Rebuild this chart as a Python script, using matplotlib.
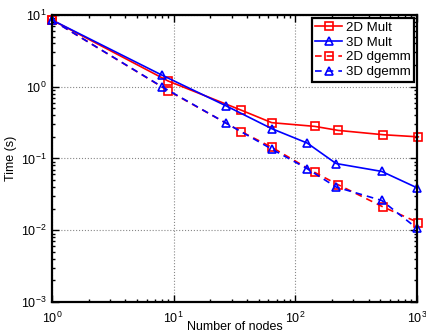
import numpy as np
import matplotlib.pyplot as plt
from matplotlib.ticker import LogLocator, NullFormatter

plt.rcParams['font.family'] = ['Liberation Sans', 'DejaVu Sans']
plt.rcParams['mathtext.fontset'] = 'custom'
plt.rcParams['mathtext.rm'] = 'Liberation Sans'

# node counts (2D = squares, 3D = cubes)
nodes_2d = [1, 9, 36, 64, 144, 225, 529, 1024]
nodes_3d = [1, 8, 27, 64, 125, 216, 512, 1000]

# timings in seconds
mult_2d = [8.5, 1.2, 0.47, 0.315, 0.28, 0.246, 0.214, 0.20]
mult_3d = [8.5, 1.45, 0.54, 0.26, 0.164, 0.085, 0.066, 0.039]
dgemm_2d = [8.5, 0.88, 0.236, 0.143, 0.064, 0.043, 0.021, 0.0128]
dgemm_3d = [8.5, 1.0, 0.31, 0.135, 0.072, 0.040, 0.026, 0.0106]

fig = plt.figure(figsize=(4.26, 3.35), dpi=100)
ax = fig.add_axes([0.122, 0.0985, 0.857, 0.857])

style = dict(lw=1.2, ms=5.5, mfc='none', mew=1.2, clip_on=False)
dash = (0, (4, 3))
ax.plot(nodes_2d, mult_2d, '-s', color='#ff0000', label='2D Mult', **style)
ax.plot(nodes_3d, mult_3d, '-^', color='#0000ff', label='3D Mult', **style)
ax.plot(nodes_2d, dgemm_2d, marker='s', ls=dash, color='#ff0000', label='2D dgemm', **style)
ax.plot(nodes_3d, dgemm_3d, marker='^', ls=dash, color='#0000ff', label='3D dgemm', **style)

ax.set_xscale('log')
ax.set_yscale('log')
ax.set_xlim(1, 1000)
ax.set_ylim(1e-3, 10)

ax.xaxis.set_major_locator(LogLocator(base=10, numticks=10))
ax.yaxis.set_major_locator(LogLocator(base=10, numticks=10))
ax.xaxis.set_minor_locator(LogLocator(base=10, subs=np.arange(2, 10), numticks=20))
ax.yaxis.set_minor_locator(LogLocator(base=10, subs=np.arange(2, 10), numticks=20))
ax.xaxis.set_minor_formatter(NullFormatter())
ax.yaxis.set_minor_formatter(NullFormatter())

ax.grid(True, which='major', ls=':', color='#888888', lw=0.8)
ax.tick_params(which='both', direction='in', top=True, right=True,
               labelsize=9, width=1.0)
ax.tick_params(axis='x', which='major', length=5, pad=6)
ax.tick_params(axis='y', which='major', length=5, pad=4)
ax.tick_params(which='minor', length=2.5)
for s in ax.spines.values():
    s.set_linewidth(1.6)

ax.set_xlabel('Number of nodes', fontsize=9)
ax.xaxis.set_label_coords(0.5, -0.065)
ax.set_ylabel('Time (s)', fontsize=9)
ax.yaxis.set_label_coords(-0.095, 0.5)

leg = ax.legend(loc='upper right', fontsize=9.5, fancybox=False,
                edgecolor='black', framealpha=1, borderaxespad=0.25,
                labelspacing=0.2, handlelength=2.0, handletextpad=0.3,
                borderpad=0.25)
leg.get_frame().set_linewidth(1.6)

fig.savefig('out.png', dpi=100)
